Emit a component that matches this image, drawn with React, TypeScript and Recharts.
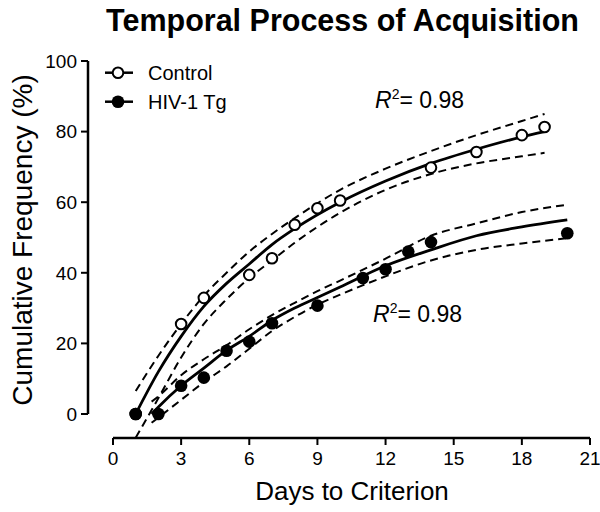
import {
  ComposedChart,
  Line,
  ReferenceLine,
  Scatter,
  XAxis,
  YAxis,
} from "recharts";

const FONT = '"Liberation Sans", Arial, sans-serif';

const xTicks = [0, 3, 6, 9, 12, 15, 18, 21];
const yTicks = [0, 20, 40, 60, 80, 100];

// observed points
const controlDays = [1, 3, 4, 6, 7, 8, 9, 10, 14, 16, 18, 19];
const controlPct = [0, 25.5, 32.9, 39.4, 44.1, 53.6, 58.3, 60.5, 69.8, 74.2, 79, 81.3];
const hivDays = [1, 2, 3, 4, 5, 6, 7, 9, 11, 12, 13, 14, 20];
const hivPct = [0, 0, 8, 10.3, 17.9, 20.5, 25.7, 30.7, 38.5, 41, 46, 48.7, 51.2];

// fitted curves and confidence bands
const controlFitDays = [1, 2, 3, 4, 5, 6, 7, 8, 10, 12, 14, 16, 18, 19];
const controlFit = [0, 12, 22, 30.5, 37, 42.5, 48, 52.5, 60, 66, 71, 75, 78.5, 80];
const controlUpper = [6.5, 16.5, 25.5, 33.5, 40, 46, 51, 55.5, 63.5, 69.5, 74.5, 79, 83, 85];
const controlLower = [-6.7, 4.5, 16, 25.5, 32.5, 38.5, 43.5, 48.5, 57, 63.5, 68, 71, 73, 74];

const hivFitDays = [1.7, 2, 3, 4, 5, 6, 7, 8, 9, 10, 12, 14, 16, 18, 20];
const hivFit = [0, 2, 8, 13, 18, 22, 26.5, 30, 33, 36, 42, 46.5, 50.5, 53, 55];
const hivUpper = [3.5, 5, 11, 15.5, 19.5, 24, 28, 31.5, 34.8, 37.8, 44, 50.5, 54, 57.2, 59.3];
const hivLower = [-2.5, -1, 4, 9, 13.5, 18.5, 23.5, 27.5, 31, 33.8, 39, 43.5, 46.5, 48.3, 49.8];

const toPoints = (xs: number[], ys: number[]) => xs.map((x, i) => ({ x, y: ys[i] }));

const OpenDot = (props: any) => (
  <circle cx={props.cx} cy={props.cy} r={5.3} fill="#fff" stroke="#000" strokeWidth={2} />
);
const FilledDot = (props: any) => <circle cx={props.cx} cy={props.cy} r={6.3} fill="#000" />;

const dashed = { stroke: "#000", strokeWidth: 2, strokeDasharray: "8 5" };

export default function App() {
  const tick = { fill: "#000", fontSize: 19, fontFamily: FONT };
  return (
    <div style={{ position: "absolute", left: 0, top: 0, width: 600, height: 512, background: "#fff" }}>
      <ComposedChart
        width={600}
        height={512}
        margin={{ top: 61, right: 10, bottom: 24, left: 28 }}
      >
        <XAxis
          type="number"
          dataKey="x"
          domain={[-1.1, 21]}
          ticks={xTicks}
          interval={0}
          allowDataOverflow
          axisLine={false}
          tickLine={{ stroke: "#000", strokeWidth: 2 }}
          tickSize={7}
          tickMargin={7}
          height={50}
          tick={tick}
        />
        <YAxis
          type="number"
          dataKey="y"
          domain={[-6.8, 100]}
          ticks={yTicks}
          interval={0}
          allowDataOverflow
          axisLine={false}
          tickLine={{ stroke: "#000", strokeWidth: 2 }}
          tickSize={7}
          tickMargin={4}
          width={60}
          tick={tick}
        />
        <ReferenceLine
          segment={[{ x: -1.1, y: 0 }, { x: -1.1, y: 100 }]}
          stroke="#000"
          strokeWidth={2.5}
          ifOverflow="visible"
        />
        <ReferenceLine
          segment={[{ x: 0, y: -6.8 }, { x: 21, y: -6.8 }]}
          stroke="#000"
          strokeWidth={2.5}
          ifOverflow="visible"
        />
        <Line data={toPoints(controlFitDays, controlUpper)} dataKey="y" type="monotone" dot={false} {...dashed} isAnimationActive={false} />
        <Line data={toPoints(controlFitDays, controlLower)} dataKey="y" type="monotone" dot={false} {...dashed} isAnimationActive={false} />
        <Line data={toPoints(hivFitDays, hivUpper)} dataKey="y" type="monotone" dot={false} {...dashed} isAnimationActive={false} />
        <Line data={toPoints(hivFitDays, hivLower)} dataKey="y" type="monotone" dot={false} {...dashed} isAnimationActive={false} />
        <Line data={toPoints(controlFitDays, controlFit)} dataKey="y" type="monotone" dot={false} stroke="#000" strokeWidth={2.8} isAnimationActive={false} />
        <Line data={toPoints(hivFitDays, hivFit)} dataKey="y" type="monotone" dot={false} stroke="#000" strokeWidth={2.8} isAnimationActive={false} />
        <Scatter data={toPoints(controlDays, controlPct)} dataKey="y" shape={OpenDot} isAnimationActive={false} />
        <Scatter data={toPoints(hivDays, hivPct)} dataKey="y" shape={FilledDot} isAnimationActive={false} />
      </ComposedChart>
      <svg
        width={600}
        height={512}
        style={{ position: "absolute", left: 0, top: 0, pointerEvents: "none" }}
        fontFamily={FONT}
      >
        <text x={342.5} y={31} textAnchor="middle" fontSize={30.5} fontWeight="bold">
          Temporal Process of Acquisition
        </text>
        <text transform="translate(32,240) rotate(-90)" textAnchor="middle" fontSize={28}>
          Cumulative Frequency (%)
        </text>
        <text x={352} y={500} textAnchor="middle" fontSize={26}>
          Days to Criterion
        </text>

        <line x1={105} x2={133} y1={72.7} y2={72.7} stroke="#000" strokeWidth={2.5} />
        <circle cx={118} cy={72.7} r={5.3} fill="#fff" stroke="#000" strokeWidth={2} />
        <text x={148} y={79.5} fontSize={20}>Control</text>
        <line x1={105} x2={133} y1={101.7} y2={101.7} stroke="#000" strokeWidth={2.5} />
        <circle cx={118} cy={101.7} r={6.3} fill="#000" />
        <text x={148} y={109} fontSize={20}>HIV-1 Tg</text>

        <text x={375} y={108} fontSize={23}>
          <tspan fontStyle="italic">R</tspan>
          <tspan dy={-9} fontSize={14}>2</tspan>
          <tspan dy={9}>= 0.98</tspan>
        </text>
        <text x={373} y={322} fontSize={23}>
          <tspan fontStyle="italic">R</tspan>
          <tspan dy={-9} fontSize={14}>2</tspan>
          <tspan dy={9}>= 0.98</tspan>
        </text>
      </svg>
    </div>
  );
}
